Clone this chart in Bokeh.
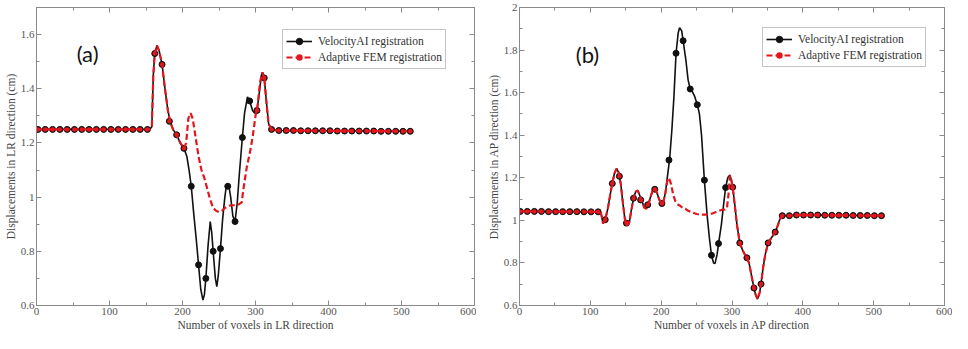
from bokeh.plotting import figure
from bokeh.models import (LinearAxis, FixedTicker, Range1d, Legend, LegendItem,
                          Label, CustomJSTickFormatter)
from bokeh.layouts import row
from bokeh.embed import file_html
from bokeh.resources import INLINE

# ---------------- data: panel (a) LR direction ----------------
a_mark_x = list(range(2, 513, 10))
a_va_mark = [1.25] * 16 + [1.53, 1.49, 1.28, 1.23, 1.18, 1.04, 0.75, 0.70, 0.80, 0.81,
                           1.04, 0.91, 1.22, 1.355, 1.32, 1.44, 1.25] + \
            [1.246, 1.246, 1.246, 1.245, 1.245, 1.245, 1.245, 1.245, 1.244, 1.244,
             1.244, 1.244, 1.244, 1.244, 1.243, 1.243, 1.243, 1.243, 1.243]
a_fem_mark_x = a_mark_x[:21] + a_mark_x[30:]
a_fem_mark = a_va_mark[:21] + a_va_mark[30:]

a_va_x = [0, 155, 158, 160, 162, 165, 168, 172, 176, 180, 183, 187, 192, 197, 202, 206, 209,
          212, 215, 219, 222, 225, 228, 230, 232, 235, 238, 240, 242, 245, 247, 249, 252, 255,
          258, 260, 263, 266, 269, 272, 275, 278, 282, 285, 289, 292, 296, 299, 302, 305, 308,
          310, 312, 315, 318, 322, 330, 512]
a_va_y = [1.25, 1.25, 1.26, 1.45, 1.53, 1.56, 1.54, 1.49, 1.40, 1.32, 1.28, 1.25, 1.23, 1.20,
          1.18, 1.15, 1.10, 1.04, 0.95, 0.84, 0.75, 0.66, 0.62, 0.64, 0.70, 0.82, 0.91, 0.87,
          0.80, 0.70, 0.67, 0.71, 0.81, 0.92, 1.00, 1.04, 1.05, 1.00, 0.93, 0.91, 0.98, 1.09,
          1.22, 1.31, 1.37, 1.355, 1.32, 1.31, 1.32, 1.38, 1.45, 1.46, 1.44, 1.35, 1.27, 1.25,
          1.246, 1.243]
a_fem_x = [0, 155, 158, 160, 162, 165, 168, 172, 176, 180, 183, 187, 192, 197, 202, 205, 208,
           211, 214, 218, 222, 226, 230, 234, 238, 242, 246, 250, 254, 258, 262, 266, 270, 274,
           278, 281, 284, 288, 292, 296, 300, 303, 306, 309, 312, 315, 318, 322, 330, 512]
a_fem_y = [1.25, 1.25, 1.26, 1.45, 1.53, 1.56, 1.54, 1.49, 1.40, 1.32, 1.28, 1.25, 1.23, 1.20,
           1.18, 1.20, 1.29, 1.31, 1.29, 1.22, 1.15, 1.10, 1.07, 1.03, 0.99, 0.96, 0.95, 0.945,
           0.95, 0.96, 0.965, 0.97, 0.97, 0.97, 0.975, 0.98, 1.04, 1.11, 1.16, 1.22, 1.30, 1.34,
           1.42, 1.46, 1.44, 1.35, 1.27, 1.25, 1.246, 1.243]

# ---------------- data: panel (b) AP direction ----------------
b_mark_x = list(range(1, 512, 10))
b_va_mark = [1.042, 1.042, 1.042, 1.042, 1.041, 1.041, 1.041, 1.041, 1.041, 1.040, 1.040, 1.040] + \
            [1.003, 1.173, 1.207, 0.987, 1.104, 1.096, 1.073, 1.146, 1.079, 1.283, 1.785, 1.844,
             1.617, 1.543, 1.189, 0.836, 0.891, 1.154, 1.156, 0.894, 0.824, 0.682, 0.701, 0.894,
             0.945, 1.022, 1.022] + \
            [1.025, 1.025, 1.025, 1.025, 1.024, 1.024, 1.024, 1.024, 1.023, 1.023, 1.023, 1.022, 1.022]
b_fem_mark_x = b_mark_x[:21] + b_mark_x[30:]
b_fem_mark = b_va_mark[:21] + b_va_mark[30:]

b_va_x = [0, 112, 115, 118, 121, 125, 128, 131, 134, 137, 140, 143, 146, 149, 152, 155, 158,
          161, 164, 167, 170, 173, 176, 179, 182, 185, 188, 191, 194, 197, 200, 203, 206, 209,
          212, 215, 218, 221, 224, 226, 229, 231, 235, 238, 241, 244, 247, 251, 254, 257, 261,
          265, 268, 271, 274, 276, 279, 281, 285, 288, 291, 294, 297, 299, 301, 304, 307, 311,
          315, 318, 321, 324, 327, 331, 333, 336, 339, 341, 344, 347, 351, 355, 358, 361, 364,
          367, 371, 381, 391, 512]
b_va_y = [1.042, 1.040, 1.035, 0.985, 1.003, 1.06, 1.12, 1.173, 1.22, 1.243, 1.225, 1.17, 1.08,
          1.00, 0.975, 0.99, 1.05, 1.104, 1.135, 1.14, 1.115, 1.09, 1.06, 1.055, 1.075, 1.11,
          1.14, 1.148, 1.13, 1.10, 1.079, 1.085, 1.13, 1.21, 1.29, 1.42, 1.58, 1.785, 1.88,
          1.905, 1.89, 1.844, 1.75, 1.66, 1.617, 1.605, 1.585, 1.543, 1.50, 1.40, 1.189, 1.02,
          0.92, 0.836, 0.80, 0.797, 0.84, 0.891, 0.98, 1.07, 1.154, 1.20, 1.213, 1.19, 1.156,
          1.07, 0.98, 0.894, 0.86, 0.84, 0.824, 0.80, 0.75, 0.682, 0.655, 0.63, 0.66, 0.701,
          0.78, 0.84, 0.894, 0.915, 0.93, 0.945, 0.97, 1.00, 1.022, 1.022, 1.025, 1.022]
b_fem_x = [0, 112, 115, 118, 121, 125, 128, 131, 134, 137, 140, 143, 146, 149, 152, 155, 158,
           161, 164, 167, 170, 173, 176, 179, 182, 185, 188, 191, 194, 197, 200, 203,
           206, 209, 211, 214, 217, 220, 223, 226, 230, 234, 238, 242, 246, 250, 254, 258, 262,
           266, 270, 274, 278, 282, 286, 290, 293, 295, 297, 299,
           301, 304, 307, 311, 315, 318, 321, 324, 327, 331, 333, 336, 339, 341, 344, 347, 351,
           355, 358, 361, 364, 367, 371, 381, 391, 512]
b_fem_y = [1.042, 1.040, 1.035, 0.985, 1.003, 1.06, 1.12, 1.173, 1.22, 1.243, 1.225, 1.17, 1.08,
           1.00, 0.975, 0.99, 1.05, 1.104, 1.135, 1.14, 1.115, 1.09, 1.06, 1.055, 1.075, 1.11,
           1.14, 1.148, 1.13, 1.10, 1.079, 1.085,
           1.13, 1.19, 1.20, 1.17, 1.12, 1.09, 1.076, 1.07, 1.06, 1.055, 1.045, 1.04, 1.035,
           1.03, 1.028, 1.027, 1.027, 1.028, 1.03, 1.035, 1.04, 1.045, 1.05, 1.05, 1.06, 1.12,
           1.21, 1.19,
           1.156, 1.07, 0.98, 0.894, 0.86, 0.84, 0.824, 0.80, 0.75, 0.682, 0.655, 0.63, 0.66,
           0.701, 0.78, 0.84, 0.894, 0.915, 0.93, 0.945, 0.97, 1.00, 1.022, 1.022, 1.025, 1.022]

x_ticks = [0, 100, 200, 300, 400, 500, 600]
x_minor = [50, 150, 250, 350, 450, 550]
a_y_ticks = [0.6, 0.8, 1.0, 1.2, 1.4, 1.6]
a_y_minor = [0.7, 0.9, 1.1, 1.3, 1.5, 1.7]
b_y_ticks = [0.6, 0.8, 1.0, 1.2, 1.4, 1.6, 1.8, 2.0]
b_y_minor = [0.7, 0.9, 1.1, 1.3, 1.5, 1.7, 1.9]

series_names = ["VelocityAI registration", "Adaptive FEM registration"]

GRAY = "#8a8a8a"
RED = "#e3161d"
SERIF = "Liberation Serif"


def style_axis(ax, ticks, minor, labels=True):
    ax.ticker = FixedTicker(ticks=ticks, minor_ticks=minor)
    ax.axis_line_color = GRAY
    ax.major_tick_line_color = GRAY
    ax.minor_tick_line_color = GRAY
    ax.major_tick_in = 5
    ax.major_tick_out = 0
    ax.minor_tick_in = 3
    ax.minor_tick_out = 0
    ax.major_label_text_font = SERIF
    ax.major_label_text_color = "#555555"
    ax.major_label_text_font_size = "11px"
    ax.major_label_standoff = 2
    ax.axis_label_text_font = SERIF
    ax.axis_label_text_font_size = "11.5px"
    ax.axis_label_text_font_style = "normal"
    ax.axis_label_text_color = "#444444"
    ax.axis_label_standoff = 1
    if not labels:
        ax.formatter = CustomJSTickFormatter(code="return ''")
        ax.major_label_text_font_size = "0px"
        ax.major_label_standoff = 0
        ax.axis_label_standoff = 0


def make_panel(tag, xlab, ylab, ymax, yt, ym, va_x, va_y, fem_x, fem_y,
               mx, my, fmx, fmy, width, left, right, leg_xy, tag_xy):
    p = figure(width=width, height=333, output_backend="svg", toolbar_location=None,
               x_range=Range1d(0, 600), y_range=Range1d(0.6, ymax),
               min_border_left=left, min_border_right=right,
               min_border_top=7, min_border_bottom=28)
    p.grid.visible = False
    p.outline_line_color = GRAY
    p.background_fill_color = "white"
    p.border_fill_color = "white"

    style_axis(p.xaxis[0], x_ticks, x_minor)
    style_axis(p.yaxis[0], yt, ym)
    p.xaxis[0].axis_label = xlab
    p.yaxis[0].axis_label = ylab
    p.yaxis[0].major_label_overrides = {1.0: "1", 2.0: "2"}

    top = LinearAxis()
    style_axis(top, x_ticks, x_minor, labels=False)
    p.add_layout(top, "above")
    rgt = LinearAxis()
    style_axis(rgt, yt, ym, labels=False)
    p.add_layout(rgt, "right")

    l1 = p.line(va_x, va_y, line_color="#111111", line_width=1.6)
    c1 = p.scatter(mx, my, size=6, fill_color="#111111", line_color="#111111")
    l2 = p.line(fem_x, fem_y, line_color=RED, line_width=2.2, line_dash="6 3")
    c2 = p.scatter(fmx, fmy, size=4.5, fill_color=RED, line_color=None)

    leg = Legend(items=[LegendItem(label=series_names[0], renderers=[l1, c1]),
                        LegendItem(label=series_names[1], renderers=[l2, c2])],
                 location=leg_xy, margin=0, padding=3, spacing=0,
                 glyph_width=26, glyph_height=16, label_height=16,
                 label_standoff=6,
                 label_text_font=SERIF, label_text_font_size="11.5px",
                 label_text_color="#333333",
                 border_line_color=GRAY, border_line_width=1,
                 background_fill_color="white", background_fill_alpha=1)
    p.add_layout(leg, "center")

    p.add_layout(Label(x=tag_xy[0], y=tag_xy[1], text=tag, text_font="Lato",
                       text_font_size="22px", text_color="#111111",
                       text_align="center", text_baseline="middle"))
    return p


pa = make_panel("(a)", "Number of voxels in LR direction", "Displacements in LR direction (cm)",
                1.7, a_y_ticks, a_y_minor, a_va_x, a_va_y, a_fem_x, a_fem_y,
                a_mark_x, a_va_mark, a_fem_mark_x, a_fem_mark,
                width=476, left=36, right=2, leg_xy=(246, 236), tag_xy=(70, 1.532))
pb = make_panel("(b)", "Number of voxels in AP direction", "Displacements in AP direction (cm)",
                2.0, b_y_ticks, b_y_minor, b_va_x, b_va_y, b_fem_x, b_fem_y,
                b_mark_x, b_va_mark, b_fem_mark_x, b_fem_mark,
                width=476, left=43, right=8, leg_xy=(243, 238), tag_xy=(96, 1.78))

layout = row(pa, pb)
open("out.html", "w").write(file_html(layout, INLINE))
